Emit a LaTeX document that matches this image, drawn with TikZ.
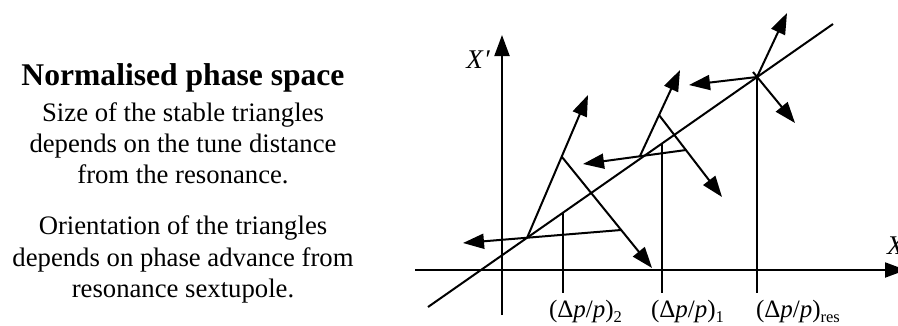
\documentclass[tikz,border=0pt]{standalone}
\usepackage{fontspec}
\setmainfont{Liberation Serif}
\usetikzlibrary{arrows.meta}
\newcommand{\dpp}[1]{(Δ\textit{p}/\textit{p})\raisebox{-0.2em}{\fontsize{16.5}{16.5}\selectfont #1}}
\begin{document}
\begin{tikzpicture}[x=1pt,y=-1pt,line width=2pt,line cap=butt,
  arr/.style={-{Triangle[length=21pt,width=15pt]}},
  bodytext/.style={font=\fontsize{26.7}{31}\selectfont,anchor=base,inner sep=0pt},
  titletext/.style={font=\bfseries\fontsize{31.6}{36}\selectfont,anchor=base,inner sep=0pt},
  lbl/.style={font=\fontsize{25}{25}\selectfont,anchor=base west,inner sep=0pt},
  axlbl/.style={font=\itshape\fontsize{27}{27}\selectfont,inner sep=0pt}]
\useasboundingbox (0,0) rectangle (898,325);
% left text
\node[titletext] (t0) at (183,85) {Normalised phase space};
\node[bodytext] (t1) at (183,121) {Size of the stable triangles};
\node[bodytext] (t2) at (183,152) {depends on the tune distance};
\node[bodytext] (t3) at (183,183) {from the resonance.};
\node[bodytext] (t4) at (183,234) {Orientation of the triangles};
\node[bodytext] (t5) at (183,266) {depends on phase advance from};
\node[bodytext] (t6) at (183,297) {resonance sextupole.};
% axes
\coordinate (ybot) at (502,315);
\coordinate (ytop) at (502,35);
\coordinate (xl) at (415,270);
\coordinate (xr) at (906,270);
\draw[arr] (ybot) -- (ytop);
\draw[arr] (xl) -- (xr);
\node[axlbl] (yl) at (478,60) {X\kern1pt′};
\node[axlbl,anchor=west] (xlab) at (886,246) {X};
% diagonal
\coordinate (d1) at (428,307);
\coordinate (d2) at (833,24);
\draw (d1) -- (d2);
% resonance point
\coordinate (P) at (757,77);
\coordinate (Pb) at (753,72);
\coordinate (PU) at (787,13);
\coordinate (PL) at (689,85);
\coordinate (PD) at (795,123);
\coordinate (Pv) at (757,293);
\draw[arr] (P) -- (PU);
\draw[arr] (P) -- (PL);
\draw[arr] (Pb) -- (PD);
\draw (P) -- (Pv);
% small triangle (Delta p/p)_1
\coordinate (L1) at (640,156);
\coordinate (T1) at (659,115);
\coordinate (R1) at (686,150);
\coordinate (a1) at (680,70);
\coordinate (b1) at (722,197);
\coordinate (c1) at (583,164);
\draw[arr] (L1) -- (a1);
\draw[arr] (T1) -- (b1);
\draw[arr] (R1) -- (c1);
\coordinate (v1t) at (662,144);
\coordinate (v1b) at (662,293);
\draw (v1t) -- (v1b);
% big triangle (Delta p/p)_2
\coordinate (L2) at (527,238);
\coordinate (T2) at (562,157);
\coordinate (R2) at (621,230);
\coordinate (a2) at (588,95);
\coordinate (b2) at (652,268);
\coordinate (c2) at (463,243);
\draw[arr] (L2) -- (a2);
\draw[arr] (T2) -- (b2);
\draw[arr] (R2) -- (c2);
\coordinate (v2t) at (563,213);
\coordinate (v2b) at (563,293);
\draw (v2t) -- (v2b);
% labels
\node[lbl] (l2) at (548,317) {\dpp{2}};
\node[lbl] (l1) at (650,317) {\dpp{1}};
\node[lbl] (lr) at (755,317) {\dpp{res}};
\end{tikzpicture}
\end{document}
